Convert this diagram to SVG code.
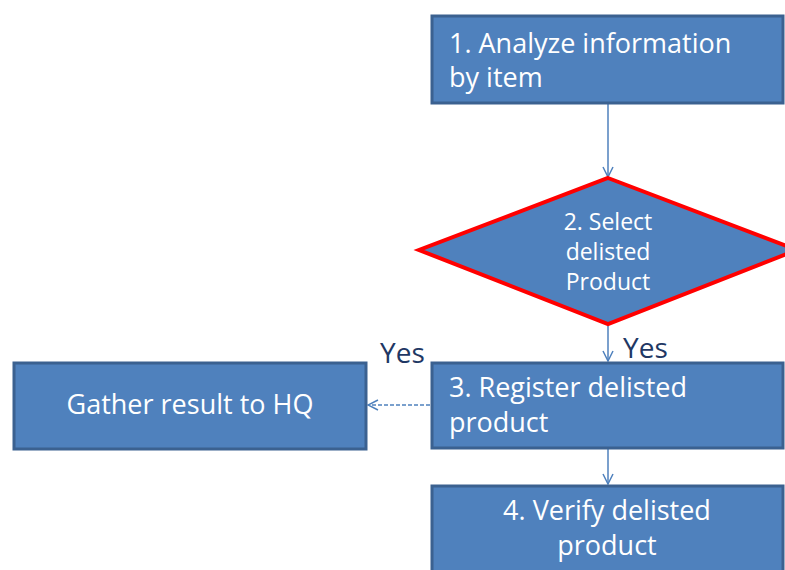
<svg xmlns="http://www.w3.org/2000/svg" width="785" height="570" viewBox="0 0 785 570">
<defs>
<style>
.box{fill:#4f81bd;stroke:#3b6190;stroke-width:3}
.t{font-family:"Open Sans","Liberation Sans",sans-serif;fill:#ffffff;font-size:27px}
.ts{font-family:"Open Sans","Liberation Sans",sans-serif;fill:#ffffff;font-size:23px}
.lbl{font-family:"Open Sans","Liberation Sans",sans-serif;fill:#1f3864;font-size:28px}
.c{fill:none;stroke:#4f81bd;stroke-width:1.5}
</style>
<marker id="ah" viewBox="0 0 12 12" refX="11" refY="6" markerWidth="12" markerHeight="12" markerUnits="userSpaceOnUse" orient="auto">
<path d="M1,1 L11,6 L1,11" fill="none" stroke="#4f81bd" stroke-width="1.5"/>
</marker>
</defs>
<rect width="785" height="570" fill="#ffffff"/>
<g id="connectors">
<line class="c" x1="608" y1="104" x2="608" y2="177" marker-end="url(#ah)"/>
<line class="c" x1="608" y1="326" x2="608" y2="361" marker-end="url(#ah)"/>
<line class="c" x1="608" y1="449" x2="608" y2="484" marker-end="url(#ah)"/>
<line class="c" x1="430" y1="405" x2="368" y2="405" stroke-dasharray="4,2" marker-end="url(#ah)"/>
<text class="lbl" x="380" y="363">Yes</text>
<text class="lbl" x="623" y="358">Yes</text>
</g>
<g id="n1">
<rect class="box" x="432" y="16" width="351" height="87"/>
<text class="t" x="449" y="53">1. Analyze information</text>
<text class="t" x="449" y="87">by item</text>
</g>
<g id="n2">
<polygon points="608,178 797,250 608,324 419,250" fill="#4f81bd" stroke="#ff0000" stroke-width="4" stroke-linejoin="miter"/>
<text class="ts" x="608" y="230" text-anchor="middle">2. Select</text>
<text class="ts" x="608" y="260" text-anchor="middle">delisted</text>
<text class="ts" x="608" y="290" text-anchor="middle">Product</text>
</g>
<g id="n3">
<rect class="box" x="432" y="363" width="351" height="85"/>
<text class="t" x="449" y="397">3. Register delisted</text>
<text class="t" x="449" y="432">product</text>
</g>
<g id="gather">
<rect class="box" x="14" y="363" width="352" height="86"/>
<text class="t" x="190" y="414" text-anchor="middle">Gather result to HQ</text>
</g>
<g id="n4">
<rect class="box" x="432" y="486" width="351" height="90"/>
<text class="t" x="607" y="520" text-anchor="middle">4. Verify delisted</text>
<text class="t" x="607" y="555" text-anchor="middle">product</text>
</g>
</svg>
